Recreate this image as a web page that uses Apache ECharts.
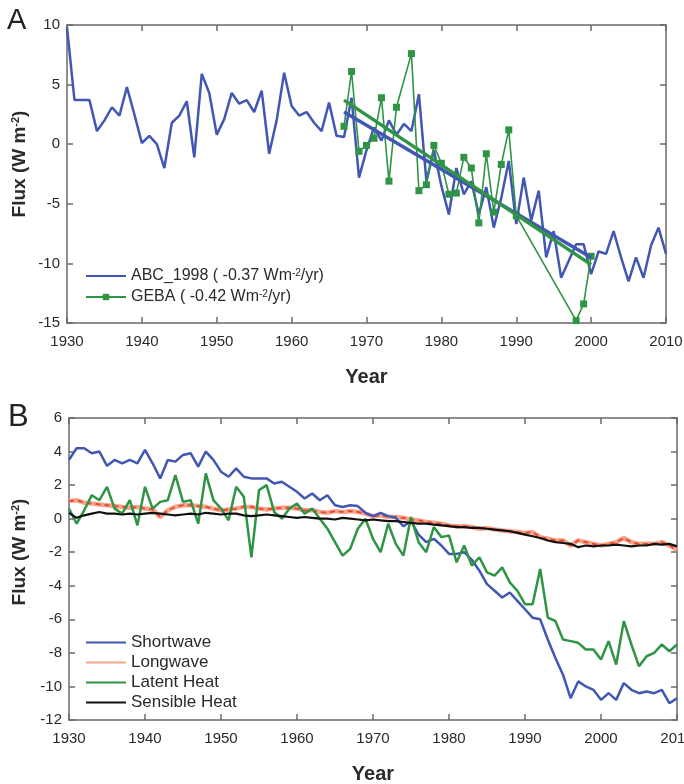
<!DOCTYPE html>
<html>
<head>
<meta charset="utf-8">
<script src="https://cdn.jsdelivr.net/npm/echarts@6.0.0/dist/echarts.min.js"></script>
<style>
html,body{margin:0;padding:0;background:#fff;}
#c{width:684px;height:784px;}
</style>
</head>
<body>
<div id="c"></div>
<script>
// ---------- Panel A data ----------
const yearsA = [];
for (let y = 1930; y <= 2010; y++) yearsA.push(y);
const abc1998 = [9.8,3.7,3.7,3.7,1.1,2.0,3.1,2.4,4.8,2.5,
  0.1,0.7,0.0,-2.0,1.8,2.4,3.6,-1.1,5.9,4.3,
  0.8,2.1,4.3,3.4,3.7,2.7,4.5,-0.8,2.0,6.0,
  3.2,2.4,2.7,1.8,1.1,3.5,0.7,0.6,3.9,-2.8,
  -0.5,1.4,0.3,2.0,0.8,1.7,1.1,4.2,-3.1,-0.5,
  -3.5,-5.9,-2.0,-4.2,-3.1,-5.9,-3.6,-7.0,-4.5,-1.4,
  -6.7,-2.8,-6.4,-3.9,-9.5,-7.3,-11.2,-9.8,-8.4,-8.4,
  -10.9,-9.0,-9.2,-7.3,-9.5,-11.5,-9.5,-11.2,-8.5,-7.0,
  -9.2];
const gebaYears = [1967,1968,1969,1970,1971,1972,1973,1974,1976,1977,1978,1979,1980,1981,1982,1983,1984,1985,1986,1987,1988,1989,1990,1998,1999,2000];
const gebaValues = [1.5,6.1,-0.6,-0.1,0.5,3.9,-3.1,3.1,7.6,-3.9,-3.4,-0.1,-1.6,-4.2,-4.1,-1.1,-2.0,-6.6,-0.8,-5.7,-1.7,1.2,-6.0,-14.8,-13.4,-9.4];
const abcTrendYears = [1967, 2000];
const abcTrendValues = [2.7, -9.5];
const gebaTrendYears = [1967, 2000];
const gebaTrendValues = [3.7, -10.1];
const ticksA = { min: -15, max: 10, interval: 5 };

// ---------- Panel B data ----------
const yearsB = yearsA;
const shortwave = [3.5,4.2,4.2,3.9,4.0,3.15,3.5,3.3,3.5,3.3,
  4.1,3.3,2.4,3.5,3.4,3.8,3.9,3.1,4.0,3.5,
  2.8,2.5,3.0,2.5,2.4,2.4,2.4,2.1,2.2,1.9,
  1.6,1.2,1.5,1.1,1.4,0.8,0.7,0.8,0.75,0.35,
  0.15,0.35,0.15,0.05,-0.45,-0.15,-0.95,-1.4,-1.2,-1.6,
  -2.1,-2.1,-2.0,-2.45,-3.1,-3.9,-4.3,-4.7,-4.4,-4.9,
  -5.4,-5.9,-6.0,-7.2,-8.3,-9.3,-10.7,-9.7,-10.0,-10.2,
  -10.8,-10.4,-10.8,-9.8,-10.2,-10.4,-10.3,-10.4,-10.2,-11.0,
  -10.7];
const longwave = [1.05,1.1,0.95,0.9,0.85,0.8,0.75,0.7,0.65,0.7,
  0.6,0.55,0.1,0.5,0.7,0.8,0.8,0.75,0.7,0.6,
  0.5,0.55,0.6,0.7,0.7,0.6,0.55,0.6,0.65,0.65,
  0.6,0.5,0.5,0.4,0.35,0.45,0.4,0.45,0.4,0.3,
  0.15,0.2,0.1,0.1,0.05,-0.05,-0.1,-0.2,-0.25,-0.3,
  -0.4,-0.45,-0.45,-0.5,-0.6,-0.55,-0.65,-0.7,-0.75,-0.8,
  -0.85,-0.8,-1.1,-1.2,-1.3,-1.3,-1.6,-1.3,-1.4,-1.5,
  -1.6,-1.5,-1.4,-1.15,-1.4,-1.5,-1.5,-1.5,-1.4,-1.6,
  -1.85];
const latentHeat = [0.6,-0.3,0.5,1.4,1.1,1.9,0.6,0.3,1.1,-0.4,
  1.9,0.6,1.0,1.1,2.6,1.0,1.1,-0.3,2.7,1.1,
  0.6,-0.1,1.9,1.3,-2.3,1.7,2.0,0.4,0.0,0.6,
  0.9,0.3,0.6,0.0,-0.6,-1.4,-2.2,-1.8,-0.6,0.0,
  -1.2,-2.0,-0.3,-1.5,-2.2,0.1,-1.4,-2.0,-0.5,-1.1,
  -1.0,-2.6,-1.6,-2.8,-2.3,-3.2,-3.4,-2.9,-3.8,-4.3,
  -5.1,-5.1,-3.0,-5.9,-6.1,-7.2,-7.3,-7.4,-7.8,-7.8,
  -8.4,-7.3,-8.7,-6.1,-7.5,-8.8,-8.2,-8.0,-7.5,-7.9,
  -7.5];
const sensibleHeat = [0.35,0.05,0.2,0.3,0.4,0.3,0.3,0.25,0.3,0.25,
  0.3,0.35,0.3,0.25,0.2,0.25,0.3,0.25,0.35,0.3,
  0.25,0.3,0.3,0.2,0.15,0.2,0.25,0.2,0.15,0.1,
  0.05,0.1,0.05,0.0,0.0,-0.05,0.05,0.0,-0.05,-0.1,
  -0.05,-0.1,-0.15,-0.15,-0.2,-0.25,-0.3,-0.3,-0.35,-0.4,
  -0.45,-0.5,-0.5,-0.55,-0.55,-0.6,-0.65,-0.7,-0.75,-0.85,
  -0.95,-1.05,-1.15,-1.3,-1.4,-1.45,-1.5,-1.7,-1.6,-1.65,
  -1.6,-1.6,-1.55,-1.6,-1.65,-1.6,-1.6,-1.5,-1.55,-1.5,
  -1.65];
const ticksB = { min: -12, max: 6, interval: 2 };
const xTicks = { min: 1930, max: 2010, interval: 10 };

// ---------- helpers ----------
const pairs = (xs, ys) => xs.map((x, i) => [x, ys[i]]);
const FONT = 'Liberation Sans';
const axisCol = '#6a6a6a';
const txtCol = '#2a2a2a';
const C_BLUE = '#4157b3';
const C_GREEN = '#2f9444';
const C_SALMON = '#f5a58c';
const C_RED = '#e8452e';

function xAx(grid, pos, labels, name) {
  return {
    type: 'value', gridIndex: grid, position: pos,
    min: xTicks.min, max: xTicks.max, interval: xTicks.interval,
    axisLine: { show: true, onZero: false, lineStyle: { color: axisCol, width: 1.5 } },
    axisTick: { show: true, inside: true, length: 6, lineStyle: { color: axisCol, width: 1.5 } },
    axisLabel: { show: labels, margin: 11, color: txtCol, fontSize: 15, fontFamily: FONT,
      formatter: v => String(v) },
    splitLine: { show: false },
    name: name || '', nameLocation: 'middle', nameGap: 44,
    nameTextStyle: { fontSize: 20, fontWeight: 'bold', color: txtCol, fontFamily: FONT }
  };
}
function yAx(grid, pos, labels, t) {
  return {
    type: 'value', gridIndex: grid, position: pos,
    min: t.min, max: t.max, interval: t.interval,
    axisLine: { show: true, onZero: false, lineStyle: { color: axisCol, width: 1.5 } },
    axisTick: { show: true, inside: true, length: 6, lineStyle: { color: axisCol, width: 1.5 } },
    axisLabel: { show: labels, margin: 7, color: txtCol, fontSize: 15, fontFamily: FONT,
      formatter: v => String(v) },
    splitLine: { show: false }
  };
}

const richLegend = {
  t: { fontSize: 16, fontFamily: FONT, color: txtCol },
  s: { fontSize: 10, fontFamily: FONT, color: txtCol, verticalAlign: 'top' }
};
const noMark = { opacity: 0 };

const chart = echarts.init(document.getElementById('c'), null, { renderer: 'canvas' });
chart.setOption({
  backgroundColor: '#ffffff',
  animation: false,
  grid: [
    { left: 67, right: 18, top: 25, height: 298, containLabel: false, outerBoundsMode: 'none' },
    { left: 69, right: 7, top: 418, height: 302, containLabel: false, outerBoundsMode: 'none' }
  ],
  xAxis: [
    xAx(0, 'bottom', true, 'Year'),
    xAx(0, 'top', false),
    xAx(1, 'bottom', true, 'Year'),
    xAx(1, 'top', false)
  ],
  yAxis: [
    yAx(0, 'left', true, ticksA),
    yAx(0, 'right', false, ticksA),
    yAx(1, 'left', true, ticksB),
    yAx(1, 'right', false, ticksB)
  ],
  legend: [
    {
      data: [{ name: 'ABC_1998', itemStyle: noMark }, { name: 'GEBA' }],
      orient: 'vertical', left: 80, top: 263,
      itemWidth: 40, itemHeight: 8, itemGap: 5,
      textStyle: { fontSize: 16, fontFamily: FONT, color: txtCol, rich: richLegend },
      formatter: function (n) {
        return n === 'ABC_1998'
          ? '{t|ABC_1998 ( -0.37 Wm}{s|-2}{t|/yr)}'
          : '{t|GEBA ( -0.42 Wm}{s|-2}{t|/yr)}';
      }
    },
    {
      data: [
        { name: 'Shortwave', itemStyle: noMark },
        { name: 'Longwave', itemStyle: noMark },
        { name: 'Latent Heat', itemStyle: noMark },
        { name: 'Sensible Heat', itemStyle: noMark }
      ],
      orient: 'vertical', left: 80, top: 629,
      itemWidth: 40, itemHeight: 10, itemGap: 3,
      textStyle: { fontSize: 17, lineHeight: 17, fontFamily: FONT, color: txtCol }
    }
  ],
  graphic: [
    { type: 'text', left: 7, top: 6, style: { text: 'A', fontSize: 29, fontFamily: FONT, fill: '#222' } },
    { type: 'text', left: 8, top: 402, style: { text: 'B', fontSize: 31, fontFamily: FONT, fill: '#222' } },
    { type: 'text', x: 20, y: 164, rotation: Math.PI / 2,
      style: { text: '{b|Flux (W m}{s|-2}{b|)}', align: 'center', verticalAlign: 'middle',
        rich: { b: { fontSize: 19, fontWeight: 'bold', fontFamily: FONT, fill: txtCol },
                s: { fontSize: 11, fontWeight: 'bold', fontFamily: FONT, fill: txtCol, verticalAlign: 'top' } } } },
    { type: 'text', x: 20, y: 552, rotation: Math.PI / 2,
      style: { text: '{b|Flux (W m}{s|-2}{b|)}', align: 'center', verticalAlign: 'middle',
        rich: { b: { fontSize: 19, fontWeight: 'bold', fontFamily: FONT, fill: txtCol },
                s: { fontSize: 11, fontWeight: 'bold', fontFamily: FONT, fill: txtCol, verticalAlign: 'top' } } } }
  ],
  series: [
    { name: 'ABC_1998', type: 'line', xAxisIndex: 0, yAxisIndex: 0, data: pairs(yearsA, abc1998),
      symbol: 'none', lineStyle: { color: C_BLUE, width: 2.5 }, itemStyle: { color: C_BLUE }, z: 3 },
    { name: 'GEBA', type: 'line', xAxisIndex: 0, yAxisIndex: 0, data: pairs(gebaYears, gebaValues),
      symbol: 'rect', symbolSize: 7, lineStyle: { color: C_GREEN, width: 1.6 }, itemStyle: { color: C_GREEN }, z: 4 },
    { name: 'ABC trend', type: 'line', xAxisIndex: 0, yAxisIndex: 0, data: pairs(abcTrendYears, abcTrendValues),
      symbol: 'none', lineStyle: { color: C_BLUE, width: 3.5 }, z: 5 },
    { name: 'GEBA trend', type: 'line', xAxisIndex: 0, yAxisIndex: 0, data: pairs(gebaTrendYears, gebaTrendValues),
      symbol: 'none', lineStyle: { color: C_GREEN, width: 3.5 }, z: 5 },

    { name: 'Shortwave', type: 'line', xAxisIndex: 2, yAxisIndex: 2, data: pairs(yearsB, shortwave),
      symbol: 'none', lineStyle: { color: C_BLUE, width: 2.5 }, itemStyle: { color: C_BLUE }, z: 3 },
    { name: 'Longwave', type: 'line', xAxisIndex: 2, yAxisIndex: 2, data: pairs(yearsB, longwave),
      symbol: 'none', lineStyle: { color: C_SALMON, width: 4.5 }, itemStyle: { color: C_SALMON }, z: 2 },
    { name: 'Longwave dashes', type: 'line', xAxisIndex: 2, yAxisIndex: 2, data: pairs(yearsB, longwave),
      symbol: 'none', lineStyle: { color: C_RED, width: 1.8, type: [5, 4] }, z: 2 },
    { name: 'Latent Heat', type: 'line', xAxisIndex: 2, yAxisIndex: 2, data: pairs(yearsB, latentHeat),
      symbol: 'none', lineStyle: { color: C_GREEN, width: 2.5 }, itemStyle: { color: C_GREEN }, z: 3 },
    { name: 'Sensible Heat', type: 'line', xAxisIndex: 2, yAxisIndex: 2, data: pairs(yearsB, sensibleHeat),
      symbol: 'none', lineStyle: { color: '#111111', width: 2.2 }, itemStyle: { color: '#111111' }, z: 4 }
  ]
});
</script>
</body>
</html>
